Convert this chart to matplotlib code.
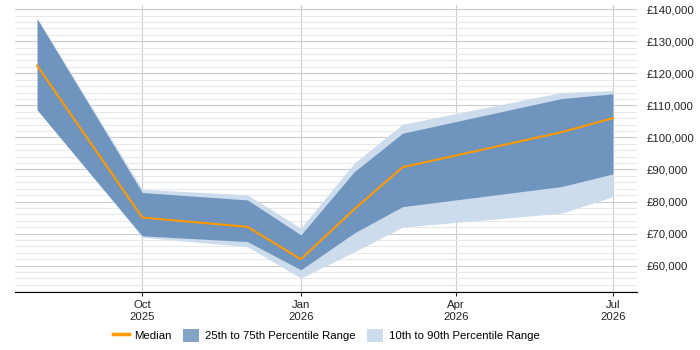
import matplotlib
matplotlib.use("Agg")
import matplotlib.pyplot as plt
import matplotlib.dates as mdates
from matplotlib.ticker import MultipleLocator, FuncFormatter
from matplotlib.patches import Patch
from matplotlib.lines import Line2D
import pandas as pd

plt.rcParams['font.family'] = ['Liberation Sans', 'DejaVu Sans']

# values
dates = pd.to_datetime(['2025-08-01', '2025-10-01', '2025-12-01', '2026-01-01',
                        '2026-02-01', '2026-03-01', '2026-06-01', '2026-07-01'])
p10 = [108600, 68850, 65900, 56100, 64300, 72000, 76350, 81500]
p25 = [108600, 69300, 67500, 58700, 70200, 78400, 84650, 88600]
median = [122400, 75000, 72100, 62000, 77600, 90700, 101600, 106000]
p75 = [137000, 82800, 80500, 69600, 89300, 101300, 112100, 113600]
p90 = [137200, 83800, 82100, 71700, 92000, 104100, 114000, 114600]

tick_dates = pd.to_datetime(['2025-10-01', '2026-01-01', '2026-04-01', '2026-07-01'])

light = '#ccdcec'
dark = '#6f94bd'
orange = '#ff9900'

fig = plt.figure(figsize=(7, 3.5), dpi=100)
ax = fig.add_axes([0.021, 0.166, 0.889, 0.82])

ax.fill_between(dates, p10, p90, color=light, linewidth=0, zorder=2)
ax.fill_between(dates, p25, p75, color=dark, linewidth=0, zorder=3)
ax.plot(dates, median, color=orange, linewidth=1.5, zorder=4)

ax.set_xlim(pd.Timestamp('2025-07-19'), pd.Timestamp('2026-07-15'))
ax.set_ylim(51800, 141340)

ax.yaxis.set_major_locator(MultipleLocator(10000))
ax.yaxis.set_minor_locator(MultipleLocator(2000))
ax.yaxis.set_major_formatter(FuncFormatter(lambda v, p: '£{:,.0f}'.format(v)))
ax.yaxis.tick_right()
ax.tick_params(axis='y', which='both', length=0, pad=7, labelsize=8.2, colors='#222222')
ax.set_yticks(range(60000, 140001, 10000))

ax.set_xticks(tick_dates)
ax.xaxis.set_major_formatter(mdates.DateFormatter('%b\n%Y'))
ax.tick_params(axis='x', length=3, labelsize=8.2, colors='#222222', pad=3)

ax.grid(True, which='major', axis='y', color='#cccccc', linewidth=0.8, zorder=0)
ax.grid(True, which='minor', axis='y', color='#e8e8e8', linewidth=0.8, zorder=0)
ax.grid(True, which='major', axis='x', color='#cccccc', linewidth=0.8, zorder=0)
ax.set_axisbelow(True)

for s in ['top', 'left', 'right']:
    ax.spines[s].set_visible(False)
ax.spines['bottom'].set_color('black')

handles = [Line2D([0], [0], color=orange, linewidth=2.5),
           Patch(facecolor='#84a4c6'),
           Patch(facecolor=light)]
labels = ['Median', '25th to 75th Percentile Range', '10th to 90th Percentile Range']
fig.legend(handles, labels, loc='lower center', bbox_to_anchor=(0.466, -0.005), ncol=3,
           frameon=False, fontsize=8.2, handlelength=1.4, handleheight=1.3,
           columnspacing=1.0, handletextpad=0.5)

fig.savefig('out.png', dpi=100)
